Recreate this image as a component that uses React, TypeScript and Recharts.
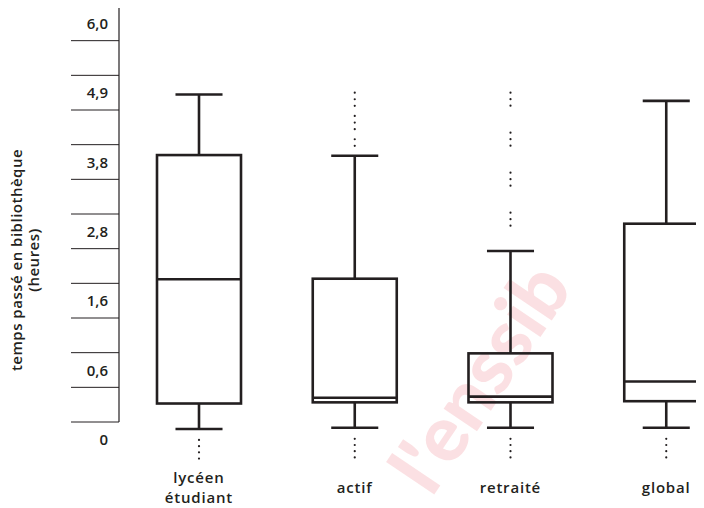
import React from 'react';
import { ComposedChart, Bar, XAxis, YAxis } from 'recharts';

// ---- data (hours) ----
const CATEGORIES = ['lycéen\nétudiant', 'actif', 'retraité', 'global'];
const WHISKER_LOW = [0.09, 0.1, 0.1, 0.1];
const Q1 = [0.31, 0.32, 0.32, 0.33];
const MEDIAN = [1.97, 0.36, 0.37, 0.5];
const Q3 = [3.91, 1.98, 0.84, 2.91];
const WHISKER_HIGH = [4.87, 3.9, 2.46, 4.77];
const DOTTED_MAX: (number | null)[] = [null, 4.9, 4.9, null];

// axis tick values (hours) and labels, drawn at equal spacing
const TICK_VALUES = [0, 0.6, 1.6, 2.8, 3.8, 4.9, 6.0];
const TICK_LABELS = ['0', '0,6', '1,6', '2,8', '3,8', '4,9', '6,0'];

// ---- styles ----
const INK = '#231f20';
const FONT = '"Open Sans", "DejaVu Sans", sans-serif';
const DOT_DASH: Record<string, string> = {
  actif: '0 6.6 0 6.6 0 10.1',
  'retraité': '0 6.5 0 6.5 0 27',
};

// map hours to the equally spaced tick scale
function toPos(h: number): number {
  for (let i = 0; i < TICK_VALUES.length - 1; i++) {
    if (h <= TICK_VALUES[i + 1]) {
      return i + (h - TICK_VALUES[i]) / (TICK_VALUES[i + 1] - TICK_VALUES[i]);
    }
  }
  const n = TICK_VALUES.length - 1;
  return n + (h - TICK_VALUES[n]) / (TICK_VALUES[n] - TICK_VALUES[n - 1]);
}

// the bar spans Q1 .. top of the glyph; the rest is placed on the same linear scale
const rows = CATEGORIES.map((name, i) => ({
  name,
  low: WHISKER_LOW[i],
  q1: Q1[i],
  median: MEDIAN[i],
  q3: Q3[i],
  high: WHISKER_HIGH[i],
  dotMax: DOTTED_MAX[i],
  range: [toPos(Q1[i]), toPos(DOTTED_MAX[i] ?? WHISKER_HIGH[i])],
}));

const Y_TICKS: number[] = [];
TICK_VALUES.forEach((_, i) => {
  if (i > 0) Y_TICKS.push(i - 0.25);
  Y_TICKS.push(i);
  if (i < TICK_VALUES.length - 1) Y_TICKS.push(i + 0.25);
});

function BoxPlotShape(props: any) {
  const { x, y, width, height, payload } = props;
  if (x == null || y == null) return null;
  const top = Math.min(y, y + height);
  const bottom = Math.max(y, y + height);
  const [pBase, pTop] = payload.range;
  const pix = (h: number) => bottom - ((bottom - top) * (toPos(h) - pBase)) / (pTop - pBase);
  const cx = x + width / 2;
  const capHalf = width * 0.28;
  const yLow = pix(payload.low);
  const yQ1 = pix(payload.q1);
  const yMed = pix(payload.median);
  const yQ3 = pix(payload.q3);
  const yHigh = pix(payload.high);
  const sw = 2.6;
  const key = String(payload.name);
  return (
    <g>
      {payload.dotMax != null && (
        <path
          d={`M${cx},${top}L${cx},${yHigh - 4}`}
          stroke={INK}
          strokeWidth={2.2}
          strokeLinecap="round"
          strokeDasharray={DOT_DASH[key] || '0 6.5'}
          fill="none"
        />
      )}
      <line x1={cx} x2={cx} y1={yHigh} y2={yQ3} stroke={INK} strokeWidth={sw} />
      <line x1={cx - capHalf} x2={cx + capHalf} y1={yHigh} y2={yHigh} stroke={INK} strokeWidth={sw} />
      <rect x={x} y={yQ3} width={width} height={yQ1 - yQ3} fill="none" stroke={INK} strokeWidth={sw} />
      <line x1={x} x2={x + width} y1={yMed} y2={yMed} stroke={INK} strokeWidth={sw} />
      <line x1={cx} x2={cx} y1={yQ1} y2={yLow} stroke={INK} strokeWidth={sw} />
      <line x1={cx - capHalf} x2={cx + capHalf} y1={yLow} y2={yLow} stroke={INK} strokeWidth={sw} />
      <path
        d={`M${cx},${yLow + 11}L${cx},${yLow + 30}`}
        stroke={INK}
        strokeWidth={2.2}
        strokeLinecap="round"
        strokeDasharray="0 6.2"
        fill="none"
      />
    </g>
  );
}

function YTick(props: any) {
  const { x, y, payload } = props;
  const v = payload.value;
  if (Number.isInteger(v)) {
    return (
      <text
        x={x - 11}
        y={y}
        dy="0.38em"
        textAnchor="end"
        fontFamily={FONT}
        fontSize={15}
        fontWeight={600}
        fill={INK}
      >
        {TICK_LABELS[v]}
      </text>
    );
  }
  return <line x1={x - 48} x2={x} y1={y} y2={y} stroke={INK} strokeWidth={1} />;
}

function XTick(props: any) {
  const { x, y, payload } = props;
  const lines = String(payload.value).split('\n');
  const first = lines.length === 1 ? 71.3 : 60.7;
  return (
    <text x={x} y={y} textAnchor="middle" fontFamily={FONT} fontSize={15} fontWeight={600} letterSpacing={0.8} fill={INK}>
      {lines.map((l, i) => (
        <tspan key={i} x={x} dy={i === 0 ? first : 20.6}>
          {l}
        </tspan>
      ))}
    </text>
  );
}

function YLabel() {
  return (
    <text
      transform="translate(22,260) rotate(-90)"
      textAnchor="middle"
      fontFamily={FONT}
      fontSize={15}
      fontWeight={600}
      letterSpacing={0.5}
      fill={INK}
    >
      <tspan x={0} dy={0}>temps passé en bibliothèque</tspan>
      <tspan x={0} dy={17}>(heures)</tspan>
    </text>
  );
}

export default function App() {
  return (
    <div style={{ position: 'relative', margin: '-8px 0 0 -8px', width: 704, height: 508, overflow: 'hidden', background: '#fff' }}>
      <svg width={704} height={508} style={{ position: 'absolute', left: 0, top: 0 }}>
        <text
          transform="translate(478,376) rotate(-56)"
          textAnchor="middle"
          dominantBaseline="central"
          fontFamily='"Lato", "Open Sans", sans-serif'
          fontWeight={900}
          fontSize={78}
          fill="#e2001a"
          fillOpacity={0.12}
        >
          l'enssib
        </text>
      </svg>
      <ComposedChart
        width={744}
        height={508}
        data={rows}
        margin={{ top: 6, right: 0, bottom: 0, left: 0 }}
      >
        <XAxis
          dataKey="name"
          type="category"
          height={86}
          axisLine={false}
          tickLine={false}
          tickSize={0}
          tickMargin={0}
          interval={0}
          padding={{ left: 2, right: 0 }}
          tick={<XTick />}
        />
        <YAxis
          type="number"
          domain={[0.25, 6.25]}
          ticks={Y_TICKS}
          interval={0}
          width={119}
          tickSize={0}
          tickMargin={0}
          tickLine={false}
          axisLine={{ stroke: INK, strokeWidth: 1.2 }}
          tick={<YTick />}
          label={{ content: () => <YLabel /> }}
        />
        <Bar dataKey="range" barSize={84} isAnimationActive={false} shape={<BoxPlotShape />} />
      </ComposedChart>
    </div>
  );
}
